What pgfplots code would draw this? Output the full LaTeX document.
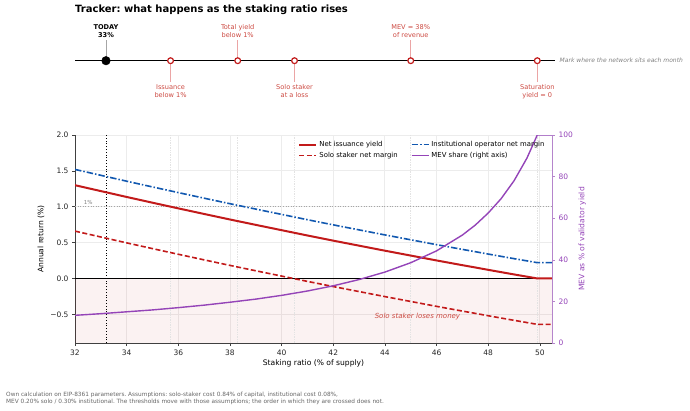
\documentclass[border=0pt]{standalone}
\usepackage{pgfplots}
\pgfplotsset{compat=1.18}
\usepackage{pgfplotstable}
\usepackage{fontspec}
\setmainfont{DejaVu Sans}
\definecolor{myred}{HTML}{C21A1A}
\definecolor{labred}{HTML}{CC4A42}
\definecolor{conn}{HTML}{EBA5A5}
\definecolor{myblue}{HTML}{1158B0}
\definecolor{mypurple}{HTML}{9444B8}
\definecolor{purpaxis}{HTML}{B585CC}
\definecolor{footgray}{HTML}{666666}

\pgfplotstableread{
x iss solo inst mev
32 1.300 0.660 1.520 13.3
33 1.218 0.578 1.438 14.1
34 1.136 0.496 1.356 15.0
35 1.056 0.416 1.276 15.9
36 0.977 0.337 1.197 17.0
37 0.899 0.259 1.119 18.2
38 0.822 0.182 1.042 19.6
39 0.747 0.107 0.967 21.1
40 0.673 0.033 0.893 22.9
41 0.599 -0.041 0.819 25.0
42 0.527 -0.113 0.747 27.5
43 0.457 -0.183 0.677 30.5
44 0.387 -0.253 0.607 34.1
45 0.319 -0.321 0.539 38.6
46 0.251 -0.389 0.471 44.3
47 0.185 -0.455 0.405 51.9
47.5 0.153 -0.487 0.373 56.7
48 0.120 -0.520 0.340 62.5
48.5 0.088 -0.552 0.308 69.4
49 0.056 -0.584 0.276 78.0
49.5 0.025 -0.615 0.245 88.9
49.9 0.000 -0.640 0.220 100
50.5 0.000 -0.640 0.220 100
}\datatab

\begin{document}
\frenchspacing
\begin{tikzpicture}[x=1pt,y=1pt]
\useasboundingbox (0,0) rectangle (690,410);
\node[anchor=base west, inner sep=0, font=\bfseries\fontsize{10}{12}\selectfont] at (75,397.3) {Tracker: what happens as the staking ratio rises};

% ---------- tracker ----------
\begin{axis}[at={(75pt,349.3pt)}, anchor=west, scale only axis, width=477pt, height=80pt,
  xmin=32, xmax=50.47, ymin=-40, ymax=40, hide axis, clip=false]
\addplot[black, line width=1.3pt] coordinates {(32,0) (50.57,0)};
\addplot[gray!70, line width=0.8pt] coordinates {(33.2,0) (33.2,20.5)};
\addplot[conn, line width=0.8pt] coordinates {(38.3,0) (38.3,20.5)};
\addplot[conn, line width=0.8pt] coordinates {(45.0,0) (45.0,20.5)};
\addplot[conn, line width=0.8pt] coordinates {(35.7,0) (35.7,-21)};
\addplot[conn, line width=0.8pt] coordinates {(40.5,0) (40.5,-21)};
\addplot[conn, line width=0.8pt] coordinates {(49.9,0) (49.9,-21)};
\addplot[only marks, mark=*, mark size=4.3pt, black] coordinates {(33.2,0)};
\addplot[only marks, mark=*, mark size=2.9pt, mark options={draw=myred, fill=white, line width=1.2pt}] coordinates {(35.7,0) (38.3,0) (40.5,0) (45.0,0) (49.9,0)};
\node[anchor=south, align=center, inner sep=1pt, font=\bfseries\fontsize{6.6}{8}\selectfont] at (axis cs:33.2,21.5) {TODAY\\33\%};
\node[anchor=south, align=center, inner sep=1pt, text=labred, font=\fontsize{6.6}{8}\selectfont] at (axis cs:38.3,21.5) {Total yield\\below 1\%};
\node[anchor=south, align=center, inner sep=1pt, text=labred, font=\fontsize{6.6}{8}\selectfont] at (axis cs:45.0,21.5) {MEV = 38\%\\of revenue};
\node[anchor=north, align=center, inner sep=1pt, text=labred, font=\fontsize{6.6}{8}\selectfont] at (axis cs:35.7,-22.5) {Issuance\\below 1\%};
\node[anchor=north, align=center, inner sep=1pt, text=labred, font=\fontsize{6.6}{8}\selectfont] at (axis cs:40.5,-22.5) {Solo staker\\at a loss};
\node[anchor=north, align=center, inner sep=1pt, text=labred, font=\fontsize{6.6}{8}\selectfont] at (axis cs:49.9,-22.5) {Saturation\\yield = 0};
\node[anchor=west, inner sep=0, text=gray, font=\itshape\fontsize{6}{7}\selectfont] at (axis cs:50.76,0) {Mark where the network sits each month};
\end{axis}

% ---------- main axis ----------
\begin{axis}[at={(75pt,67pt)}, anchor=south west, scale only axis, width=477pt, height=208pt,
  xmin=32, xmax=50.47, ymin=-0.9, ymax=2.0,
  axis x line*=bottom, axis y line*=left,
  axis line style={-, black!75, line width=0.8pt},
  xtick={32,34,...,50}, xticklabels={32,34,36,38,40,42,44,46,48,50},
  ytick={-0.5,0,0.5,1,1.5,2}, yticklabels={−0.5,0.0,0.5,1.0,1.5,2.0},
  tick label style={font=\fontsize{7.5}{8}\selectfont, text=black!85},
  tick align=outside, major tick length=3pt, tick style={black!75, line width=0.6pt},
  grid=major, major grid style={gray!15, line width=0.9pt},
  xlabel={Staking ratio (\% of supply)}, ylabel={Annual return (\%)},
  label style={font=\fontsize{7.6}{8}\selectfont},
  xlabel style={yshift=2pt},
  ylabel style={yshift=-1pt}]
\addplot[draw=none, fill=myred, fill opacity=0.06] coordinates {(32,-0.9) (32,0) (50.47,0) (50.47,-0.9)} -- cycle;
\addplot[gray!22, line width=0.7pt, densely dotted] coordinates {(35.7,-0.9) (35.7,2)};
\addplot[gray!22, line width=0.7pt, densely dotted] coordinates {(38.3,-0.9) (38.3,2)};
\addplot[gray!22, line width=0.7pt, densely dotted] coordinates {(40.5,-0.9) (40.5,2)};
\addplot[gray!22, line width=0.7pt, densely dotted] coordinates {(45.0,-0.9) (45.0,2)};
\addplot[gray!22, line width=0.7pt, densely dotted] coordinates {(49.9,-0.9) (49.9,2)};
\addplot[gray!70, dotted, line width=0.6pt] coordinates {(32,1) (50.47,1)};
\addplot[black, line width=0.8pt] coordinates {(32,0) (50.47,0)};
\addplot[black, dotted, line width=0.8pt] coordinates {(33.2,-0.9) (33.2,2)};
\node[anchor=south west, inner sep=1pt, text=gray, font=\fontsize{5.5}{6}\selectfont] at (axis cs:32.3,1.02) {1\%};
\addplot[myred, line width=2pt] table[x=x, y=iss] {\datatab};
\addplot[myred, line width=1.6pt, dash pattern=on 5pt off 2.5pt] table[x=x, y=solo] {\datatab};
\addplot[myblue, line width=1.6pt, dash pattern=on 6.5pt off 2pt on 1.5pt off 2pt] table[x=x, y=inst] {\datatab};
\node[text=labred, font=\itshape\fontsize{7}{8}\selectfont] at (axis cs:45.26,-0.53) {Solo staker loses money};
\end{axis}

% ---------- right axis ----------
\begin{axis}[at={(75pt,67pt)}, anchor=south west, scale only axis, width=477pt, height=208pt,
  xmin=32, xmax=50.47, ymin=0, ymax=100,
  axis x line=none, axis y line*=right,
  axis line style={-, purpaxis, line width=0.8pt},
  ytick={0,20,...,100}, yticklabels={0,20,40,60,80,100},
  tick label style={font=\fontsize{7.5}{8}\selectfont, text=mypurple},
  tick align=outside, major tick length=3pt, tick style={purpaxis, line width=0.6pt},
  ylabel={MEV as \% of validator yield},
  ylabel style={font=\fontsize{7.6}{8}\selectfont, text=mypurple, yshift=1pt},
  legend columns=2, legend cell align=left,
  legend style={at={(0.995,0.99)}, anchor=north east, draw=none, fill=none,
    font=\fontsize{6.9}{7.5}\selectfont, row sep=0pt,
    /tikz/every even column/.append style={column sep=11pt}}]
\addlegendimage{myred, line width=2pt}
\addlegendentry{Net issuance yield}
\addlegendimage{myblue, line width=1.6pt, dash pattern=on 6.5pt off 2pt on 1.5pt off 2pt}
\addlegendentry{Institutional operator net margin}
\addlegendimage{myred, line width=1.6pt, dash pattern=on 5pt off 2.5pt}
\addlegendentry{Solo staker net margin}
\addplot[mypurple, line width=1.4pt] table[x=x, y=mev] {\datatab};
\addlegendentry{MEV share (right axis)}
\end{axis}

\node[anchor=base west, inner sep=0, text=footgray, font=\fontsize{5.8}{7}\selectfont] at (6,13.5) {Own calculation on EIP-8361 parameters. Assumptions: solo-staker cost 0.84\% of capital, institutional cost 0.08\%,};
\node[anchor=base west, inner sep=0, text=footgray, font=\fontsize{5.8}{7}\selectfont] at (6,6.2) {MEV 0.20\% solo / 0.30\% institutional. The thresholds move with those assumptions; the order in which they are crossed does not.};
\end{tikzpicture}
\end{document}
